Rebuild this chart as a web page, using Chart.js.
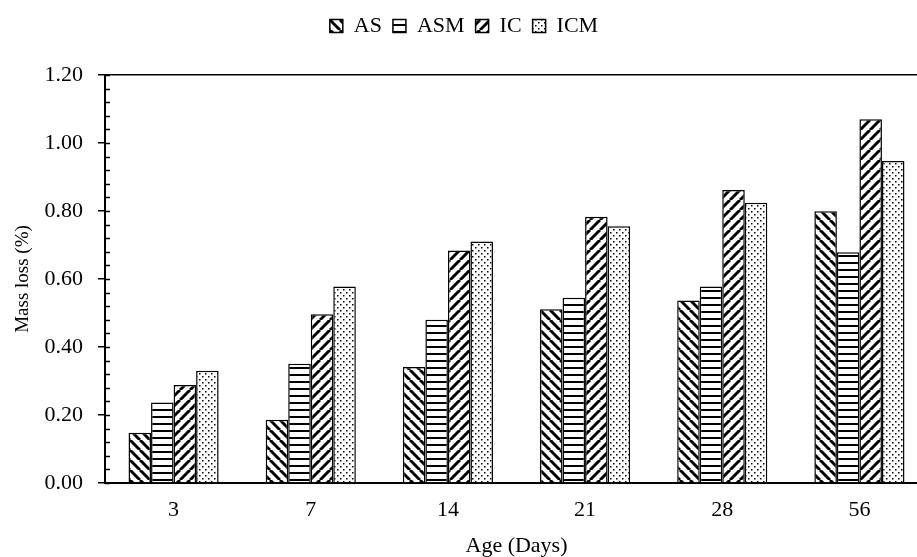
<!DOCTYPE html>
<html>
<head>
<meta charset="utf-8">
<title>Mass loss</title>
<script src="https://cdn.jsdelivr.net/npm/chart.js@4"></script>
<style>
  body { margin: 0; background: #fff; overflow: hidden; }
  #wrap { width: 930px; height: 557px; }
</style>
</head>
<body>
<div id="wrap"><canvas id="chart"></canvas></div>
<script>
// datos
var ages = ['3', '7', '14', '21', '28', '56'];
var asData  = [0.148, 0.186, 0.341, 0.511, 0.537, 0.799];
var asmData = [0.237, 0.351, 0.480, 0.545, 0.578, 0.679];
var icData  = [0.288, 0.496, 0.684, 0.783, 0.862, 1.070];
var icmData = [0.330, 0.578, 0.710, 0.755, 0.824, 0.947];

var FONT = "'Liberation Serif', 'Times New Roman', serif";

// rellenos en blanco y negro
function makePattern(kind) {
    var s = kind === 'dots' ? 6 : (kind === 'hline' ? 7 : 10);
    var c = document.createElement('canvas');
    c.width = s; c.height = s;
    var g = c.getContext('2d');
    g.fillStyle = '#fff';
    g.fillRect(0, 0, s, s);
    g.strokeStyle = '#000';
    g.fillStyle = '#000';
    if (kind === 'back' || kind === 'fwd') {
        g.lineWidth = 3;
        for (var k = -1; k <= 1; k++) {
            g.beginPath();
            if (kind === 'back') {
                g.moveTo(k * s, 0); g.lineTo(k * s + s, s);
            } else {
                g.moveTo(k * s, s); g.lineTo(k * s + s, 0);
            }
            g.stroke();
        }
    } else if (kind === 'hline') {
        g.fillRect(0, 3, s, 2);
    } else {
        g.fillRect(1, 1, 1.5, 1.5);
        g.fillRect(4, 4, 1.5, 1.5);
    }
    return g.createPattern(c, 'repeat');
}

var minorTicks = {
    id: 'minorTicks',
    afterDatasetsDraw: function (chart) {
        var y = chart.scales.y;
        var ctx = chart.ctx;
        ctx.save();
        ctx.strokeStyle = '#000';
        ctx.lineWidth = 1.5;
        for (var i = 0; i <= 30; i++) {
            var py = Math.round(y.getPixelForValue(i * 0.04)) + 0.5;
            ctx.beginPath();
            ctx.moveTo(y.right, py);
            ctx.lineTo(y.right + 5, py);
            ctx.stroke();
        }
        ctx.restore();
    }
};

var legendSpace = {
    id: 'legendSpace',
    beforeInit: function (chart) {
        var fit = chart.legend.fit;
        chart.legend.fit = function () {
            fit.bind(chart.legend)();
            this.height = 71;
        };
    }
};

function ds(label, data, kind) {
    return {
        label: label,
        data: data,
        backgroundColor: makePattern(kind),
        borderColor: '#000',
        borderWidth: 1.5,
        categoryPercentage: 0.657,
        barPercentage: 1.0
    };
}

new Chart(document.getElementById('chart'), {
    type: 'bar',
    data: {
        labels: ages,
        datasets: [
            ds('AS', asData, 'back'),
            ds('ASM', asmData, 'hline'),
            ds('IC', icData, 'fwd'),
            ds('ICM', icmData, 'dots')
        ]
    },
    options: {
        responsive: true,
        maintainAspectRatio: false,
        animation: false,
        layout: { padding: { left: 0, right: 2, top: 4, bottom: 0 } },
        plugins: {
            tooltip: { enabled: false },
            legend: {
                position: 'top',
                labels: {
                    color: '#000',
                    font: { family: FONT, size: 22 },
                    boxWidth: 13,
                    boxHeight: 13,
                    padding: 11
                }
            }
        },
        scales: {
            x: {
                afterFit: function (scale) { scale.height = 74; },
                grid: { display: false, drawTicks: false },
                border: { display: true, color: '#000', width: 2 },
                ticks: {
                    color: '#000',
                    font: { family: FONT, size: 22 },
                    padding: 14
                },
                title: {
                    display: true,
                    text: 'Age (Days)',
                    color: '#000',
                    font: { family: FONT, size: 22, lineHeight: 1 },
                    padding: { top: 0, bottom: 0 }
                }
            },
            y: {
                min: 0,
                max: 1.2,
                afterFit: function (scale) { scale.width = 105; },
                grid: {
                    color: function (c) {
                        return c.tick && Math.abs(c.tick.value - 1.2) < 1e-6 ? '#000' : 'rgba(0,0,0,0)';
                    },
                    lineWidth: 1.5,
                    tickColor: '#000',
                    tickLength: 7,
                    drawTicks: true
                },
                border: { display: true, color: '#000', width: 2 },
                ticks: {
                    stepSize: 0.2,
                    color: '#000',
                    font: { family: FONT, size: 22 },
                    padding: 15,
                    callback: function (v) { return Number(v).toFixed(2); }
                },
                title: {
                    display: true,
                    text: 'Mass loss (%)',
                    color: '#000',
                    font: { family: FONT, size: 19, lineHeight: 1 },
                    padding: { top: 14, bottom: 0 }
                }
            }
        }
    },
    plugins: [minorTicks, legendSpace]
});
</script>
</body>
</html>
